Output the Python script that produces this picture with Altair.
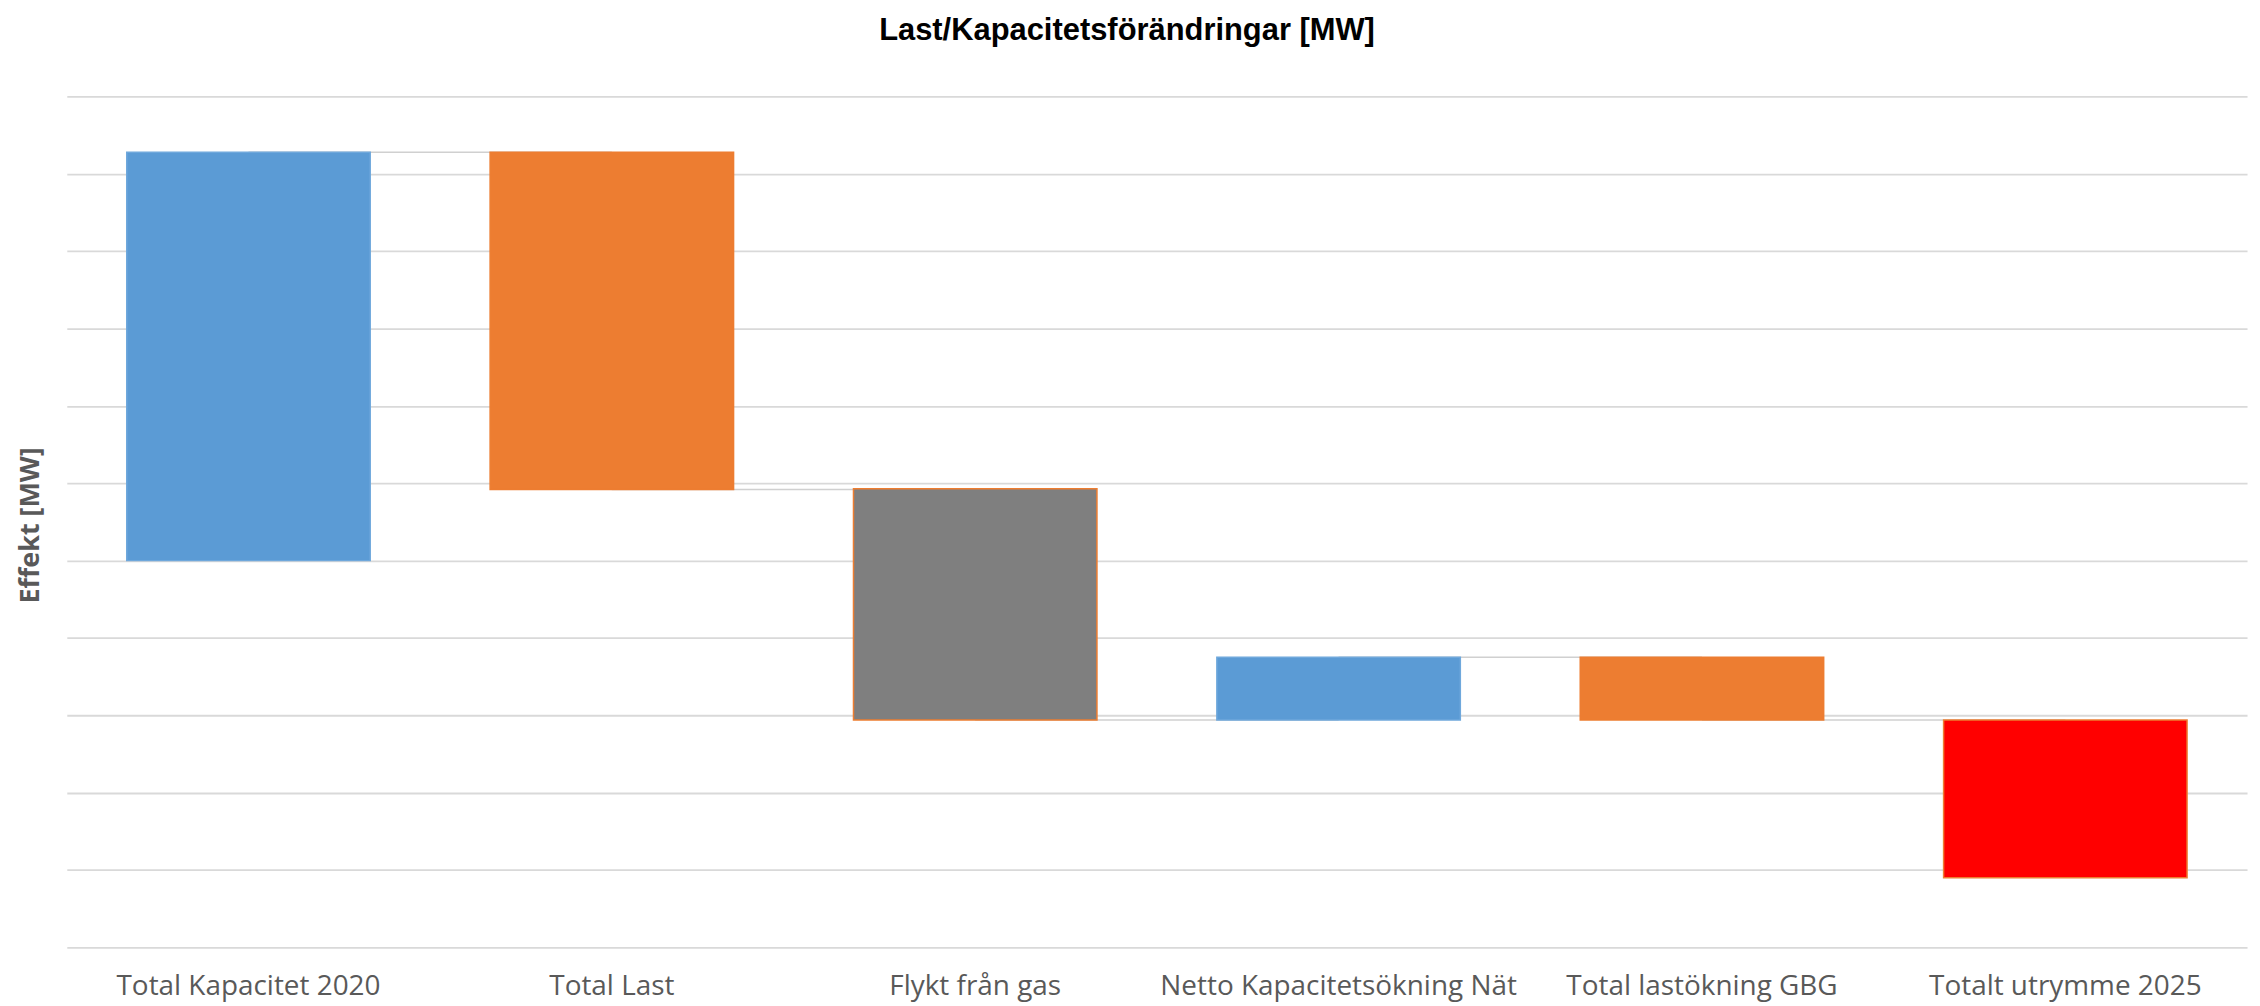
import altair as alt
import pandas as pd

categories = ["Total Kapacitet 2020", "Total Last", "Flykt från gas",
              "Netto Kapacitetsökning Nät", "Total lastökning GBG", "Totalt utrymme 2025"]
start_mw = [500, 1028, 593, 294, 375, 294]
end_mw = [1028, 592, 294, 375, 294, 90]
grid_values = [0, 100, 200, 300, 400, 500, 600, 700, 800, 900, 1000, 1100]

fills = ["#5B9BD5", "#ED7D31", "#7F7F7F", "#5B9BD5", "#ED7D31", "#FF0000"]
strokes = ["#6FA8DC", "#ED7D31", "#ED7D31", "#6FA8DC", "#ED7D31", "#ED7D31"]

df = pd.DataFrame({"cat": categories, "start": start_mw, "end": end_mw})
conn = pd.DataFrame({"a": categories[:-1], "b": categories[1:], "level": end_mw[:-1]})

xscale = alt.Scale(domain=categories, paddingInner=0.33, paddingOuter=0.165)
yscale = alt.Scale(domain=[0, 1100], nice=False, zero=False)

xaxis = alt.Axis(title=None, labelFont="Open Sans", labelFontSize=28, labelColor="#595959",
                 labelPadding=47, labelBaseline="alphabetic", labelLimit=1000, ticks=False,
                 domain=False, labelAngle=0, grid=False)
yaxis = alt.Axis(title="Effekt [MW]", values=grid_values, labels=False, ticks=False, domain=False,
                 grid=True, gridColor="#D9D9D9", gridWidth=1.8,
                 titleFont="Open Sans", titleFontSize=27, titleFontWeight="bold",
                 titleColor="#595959", titleX=-36, titleY=430, titleAngle=-90,
                 titleAlign="center", titleBaseline="middle")

rules = alt.Chart(conn).mark_rule(color="#D0D0D0", strokeWidth=1.5).encode(
    x=alt.X("a:N", scale=xscale, sort=categories, axis=xaxis),
    x2="b:N",
    y=alt.Y("level:Q", scale=yscale, axis=yaxis),
)

bars = alt.Chart(df).mark_bar(strokeWidth=1.5).encode(
    x=alt.X("cat:N", scale=xscale, sort=categories, axis=xaxis),
    y=alt.Y("start:Q", scale=yscale, axis=yaxis),
    y2="end:Q",
    color=alt.Color("cat:N", scale=alt.Scale(domain=categories, range=fills), legend=None),
    stroke=alt.Stroke("cat:N", scale=alt.Scale(domain=categories, range=strokes), legend=None),
)

chart = alt.layer(rules, bars).properties(
    width=2188, height=854,
    autosize=alt.AutoSizeParams(type="none"),
    padding={"left": 59, "top": 87, "right": 5, "bottom": 57},
    background="white",
    title=alt.TitleParams("Last/Kapacitetsförändringar [MW]", font="Liberation Sans",
                          fontSize=31, fontWeight="bold", color="black", anchor="middle",
                          dx=-30, offset=50),
).configure_view(stroke=None, strokeWidth=0)

chart.save("out.html", embed_options={"renderer": "svg", "actions": False})
